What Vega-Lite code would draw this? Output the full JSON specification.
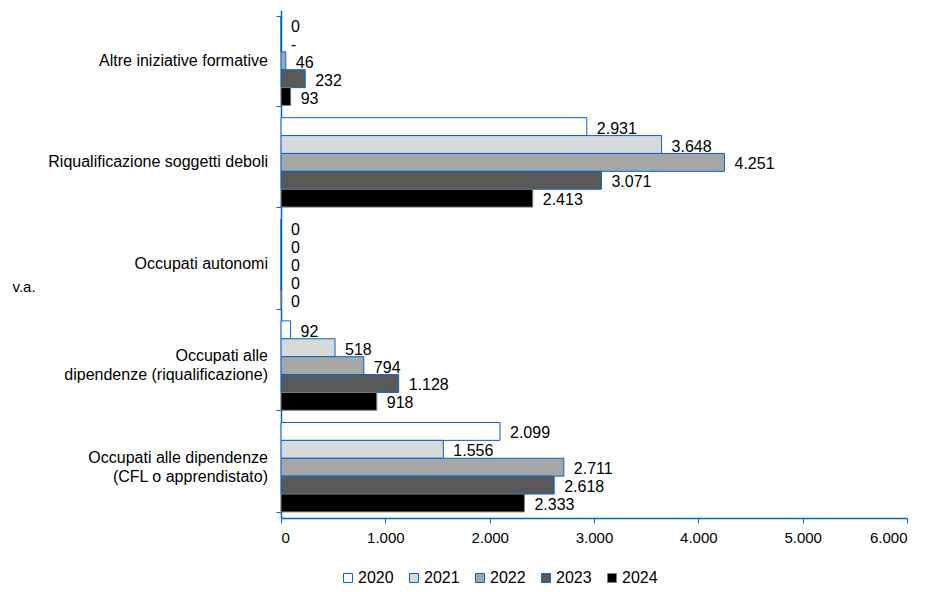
{
  "$schema": "https://vega.github.io/schema/vega-lite/v6.json",
  "width": 626,
  "height": 508,
  "padding": {"left": 12, "top": 10, "right": 4, "bottom": 4},
  "background": "white",
  "data": {
    "values": [
      {"cat": "Altre iniziative formative", "year": "2020", "value": 0, "label": "0"},
      {"cat": "Altre iniziative formative", "year": "2021", "value": 0, "label": "-"},
      {"cat": "Altre iniziative formative", "year": "2022", "value": 46, "label": "46"},
      {"cat": "Altre iniziative formative", "year": "2023", "value": 232, "label": "232"},
      {"cat": "Altre iniziative formative", "year": "2024", "value": 93, "label": "93"},
      {"cat": "Riqualificazione soggetti deboli", "year": "2020", "value": 2931, "label": "2.931"},
      {"cat": "Riqualificazione soggetti deboli", "year": "2021", "value": 3648, "label": "3.648"},
      {"cat": "Riqualificazione soggetti deboli", "year": "2022", "value": 4251, "label": "4.251"},
      {"cat": "Riqualificazione soggetti deboli", "year": "2023", "value": 3071, "label": "3.071"},
      {"cat": "Riqualificazione soggetti deboli", "year": "2024", "value": 2413, "label": "2.413"},
      {"cat": "Occupati autonomi", "year": "2020", "value": 0, "label": "0"},
      {"cat": "Occupati autonomi", "year": "2021", "value": 0, "label": "0"},
      {"cat": "Occupati autonomi", "year": "2022", "value": 0, "label": "0"},
      {"cat": "Occupati autonomi", "year": "2023", "value": 0, "label": "0"},
      {"cat": "Occupati autonomi", "year": "2024", "value": 0, "label": "0"},
      {"cat": "Occupati alle|dipendenze (riqualificazione)", "year": "2020", "value": 92, "label": "92"},
      {"cat": "Occupati alle|dipendenze (riqualificazione)", "year": "2021", "value": 518, "label": "518"},
      {"cat": "Occupati alle|dipendenze (riqualificazione)", "year": "2022", "value": 794, "label": "794"},
      {"cat": "Occupati alle|dipendenze (riqualificazione)", "year": "2023", "value": 1128, "label": "1.128"},
      {"cat": "Occupati alle|dipendenze (riqualificazione)", "year": "2024", "value": 918, "label": "918"},
      {"cat": "Occupati alle dipendenze|(CFL o apprendistato)", "year": "2020", "value": 2099, "label": "2.099"},
      {"cat": "Occupati alle dipendenze|(CFL o apprendistato)", "year": "2021", "value": 1556, "label": "1.556"},
      {"cat": "Occupati alle dipendenze|(CFL o apprendistato)", "year": "2022", "value": 2711, "label": "2.711"},
      {"cat": "Occupati alle dipendenze|(CFL o apprendistato)", "year": "2023", "value": 2618, "label": "2.618"},
      {"cat": "Occupati alle dipendenze|(CFL o apprendistato)", "year": "2024", "value": 2333, "label": "2.333"}
    ]
  },
  "encoding": {
    "y": {
      "field": "cat",
      "type": "nominal",
      "sort": [
        "Altre iniziative formative",
        "Riqualificazione soggetti deboli",
        "Occupati autonomi",
        "Occupati alle|dipendenze (riqualificazione)",
        "Occupati alle dipendenze|(CFL o apprendistato)"
      ],
      "scale": {"paddingInner": 0.12, "paddingOuter": 0.06},
      "axis": {
        "title": "v.a.",
        "titleAngle": 0,
        "titleX": -269,
        "titleY": 276,
        "titleAlign": "left",
        "titleBaseline": "middle",
        "titleFontWeight": "normal",
        "titleFont": "Liberation Sans",
        "titleFontSize": 15,
        "titleColor": "#000000",
        "labels": false,
        "tickBand": "extent",
        "tickSize": 5,
        "tickColor": "#0066CC",
        "domainColor": "#0066CC",
        "domainWidth": 1.5
      }
    },
    "x": {
      "field": "value",
      "type": "quantitative",
      "scale": {"domain": [0, 6000], "nice": false},
      "axis": {
        "title": null,
        "grid": false,
        "values": [0, 1000, 2000, 3000, 4000, 5000, 6000],
        "labelExpr": "replace(format(datum.value, ','), ',', '.')",
        "labelFont": "Liberation Sans",
        "labelFontSize": 15,
        "labelColor": "#000000",
        "labelPadding": 7,
        "tickSize": 5,
        "tickColor": "#0066CC",
        "domainColor": "#0066CC",
        "domainWidth": 1.5
      }
    }
  },
  "layer": [
    {
      "mark": {"type": "bar", "strokeWidth": 1},
      "encoding": {
        "yOffset": {"field": "year", "type": "nominal", "scale": {"paddingInner": 0, "paddingOuter": 0}},
        "fill": {
          "field": "year",
          "type": "nominal",
          "scale": {"domain": ["2020", "2021", "2022", "2023", "2024"], "range": ["#ffffff", "#d9d9d9", "#a6a6a6", "#595959", "#000000"]},
          "legend": {
            "title": null,
            "orient": "none",
            "direction": "horizontal",
            "legendX": 59,
            "legendY": 560,
            "symbolType": "square",
            "symbolSize": 80,
            "symbolStrokeWidth": 1,
            "symbolOpacity": 1,
            "labelFont": "Liberation Sans",
            "labelFontSize": 16,
            "labelColor": "#000000",
            "labelOffset": 2,
            "columnPadding": 12
          }
        },
        "stroke": {
          "field": "year",
          "type": "nominal",
          "scale": {"domain": ["2020", "2021", "2022", "2023", "2024"], "range": ["#0066CC", "#0066CC", "#0066CC", "#0066CC", "#7f7f7f"]},
          "legend": {
            "title": null,
            "orient": "none",
            "direction": "horizontal",
            "legendX": 59,
            "legendY": 560,
            "symbolType": "square",
            "symbolSize": 80,
            "symbolStrokeWidth": 1,
            "symbolOpacity": 1,
            "labelFont": "Liberation Sans",
            "labelFontSize": 16,
            "labelColor": "#000000",
            "labelOffset": 2,
            "columnPadding": 12
          }
        }
      }
    },
    {
      "mark": {"type": "text", "align": "left", "baseline": "middle", "dx": 10, "dy": 2, "font": "Liberation Sans", "fontSize": 16, "color": "#000000"},
      "encoding": {
        "yOffset": {"field": "year", "type": "nominal", "scale": {"paddingInner": 0, "paddingOuter": 0}},
        "text": {"field": "label", "type": "nominal"}
      }
    },
    {
      "transform": [{"filter": "datum.year === '2020' && indexof(datum.cat, '|') < 0"}],
      "mark": {"type": "text", "align": "right", "baseline": "middle", "dx": -13, "font": "Liberation Sans", "fontSize": 16, "color": "#000000"},
      "encoding": {
        "x": {"datum": 0},
        "text": {"field": "cat", "type": "nominal"}
      }
    },
    {
      "transform": [{"filter": "datum.year === '2020' && indexof(datum.cat, '|') >= 0"}],
      "mark": {"type": "text", "align": "right", "baseline": "middle", "dx": -13, "dy": -9.5, "lineBreak": "|", "lineHeight": 19, "font": "Liberation Sans", "fontSize": 16, "color": "#000000"},
      "encoding": {
        "x": {"datum": 0},
        "text": {"field": "cat", "type": "nominal"}
      }
    }
  ],
  "config": {
    "view": {"stroke": null}
  }
}
